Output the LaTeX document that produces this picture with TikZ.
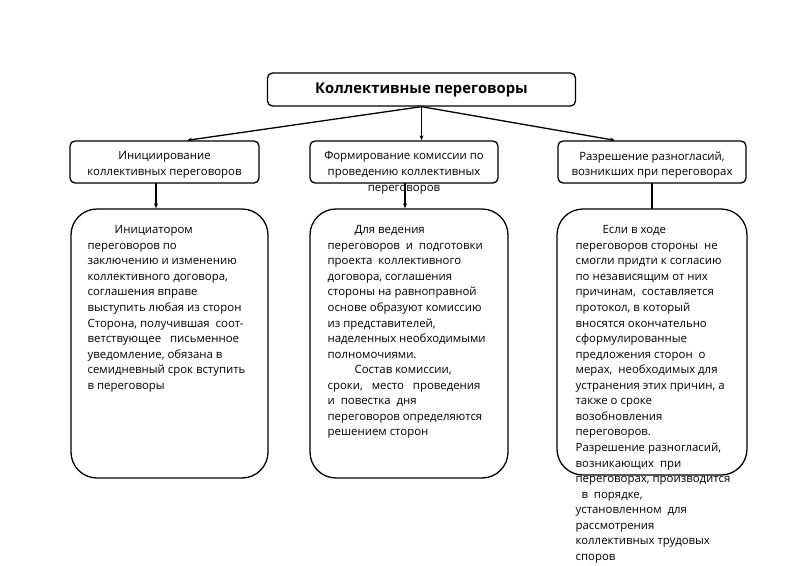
\documentclass[tikz,border=0pt]{standalone}
\usepackage{fontspec}
\setmainfont{Open Sans}
\usetikzlibrary{arrows.meta}

\begin{document}
\begin{tikzpicture}[x=1pt, y=-1pt, line join=round, line cap=round, line width=1.3pt,
    box/.style={draw, rounded corners=5pt, inner sep=0pt, minimum height=42pt},
    bigbox/.style={draw, rounded corners=26pt, inner sep=0pt},
    txt/.style={font=\fontsize{11.4}{15.55}\selectfont, inner sep=0pt},
    arr/.style={-{Stealth[length=5pt,width=4pt]}}]
    % Define parameters
    \def\ind{\hspace*{27pt}} % Indent of a paragraph
    
    % Page frame
    \useasboundingbox (0,0) rectangle (800,565);
    
    % Title box
    \node[box, minimum width=308pt, minimum height=33pt] (title) at (421.5,89.5) {};
    \node[txt, font=\fontsize{14.8}{17}\selectfont\bfseries] (titletxt) at (title) {Коллективные переговоры};
    
    % Second row of boxes
    \node[box, minimum width=189pt] (init) at (164.5,162) {};
    \node[box, minimum width=188pt] (komis) at (404,162) {};
    \node[box, minimum width=188pt] (razr) at (652,162) {};
    
    \node[txt, anchor=north, align=center] (inittxt) at (164.5,151) {Инициирование\\коллективных переговоров};
    \node[txt, anchor=north, align=center] (komistxt) at (404,151) {Формирование комиссии по\\проведению коллективных\\переговоров};
    \node[txt, anchor=north, align=center] (razrtxt) at (652,151) {Разрешение разногласий,\\возникших при переговорах};
    
    % Big boxes with the texts
    \node[bigbox, minimum width=197pt, minimum height=269pt] (initbig) at (169.5,343.5) {};
    \node[bigbox, minimum width=198pt, minimum height=269pt] (komisbig) at (409,343.5) {};
    \node[bigbox, minimum width=190pt, minimum height=266pt] (razrbig) at (652,342) {};
    
    \node[txt, anchor=north west, align=left] (initbigtxt) at (87,225) {\ind Инициатором\\переговоров по\\заключению и изменению\\коллективного договора,\\соглашения вправе\\выступить любая из сторон\\Сторона, получившая\ \ соот-\\ветствующее\ \ \ письменное\\уведомление, обязана в\\семидневный срок вступить\\в переговоры};
    \node[txt, anchor=north west, align=left] (komisbigtxt) at (327,225) {\ind Для ведения\\переговоров\ \ и\ \ подготовки\\проекта\ \ коллективного\\договора, соглашения\\стороны на равноправной\\основе образуют комиссию\\из представителей,\\наделенных необходимыми\\полномочиями.\\\ind Состав комиссии,\\сроки,\ \ \ место\ \ \ проведения\\и\ \ повестка\ \ дня\\переговоров определяются\\решением сторон};
    \node[txt, anchor=north west, align=left] (razrbigtxt) at (575,225) {\ind Если в ходе\\переговоров стороны\ \ не\\смогли придти к согласию\\по независящим от них\\причинам,\ \ составляется\\протокол, в который\\вносятся окончательно\\сформулированные\\предложения сторон\ \ о\\мерах,\ \ необходимых для\\устранения этих причин, а\\также о сроке\\возобновления\\переговоров.\\Разрешение разногласий,\\возникающих\ \ при\\переговорах, производится\\\ \ в\ \ порядке,\\установленном\ \ для\\рассмотрения\\коллективных трудовых\\споров};
    
    % Arrows from the title
    \draw[arr] (title.south) -- (init.north -| 187,0);
    \draw[arr] (title.south) -- (komis.north -| title.south);
    \draw[arr] (title.south) -- (razr.north -| 615,0);
    
    % Links down to the big boxes
    \draw[arr] (init.south -| 156,0) -- (initbig.north -| 156,0);
    \draw[arr] (komis.south -| 405,0) -- (komisbig.north -| 405,0);
    \draw (razr.south) -- (razrbig.north);
    
\end{tikzpicture}
\end{document}
